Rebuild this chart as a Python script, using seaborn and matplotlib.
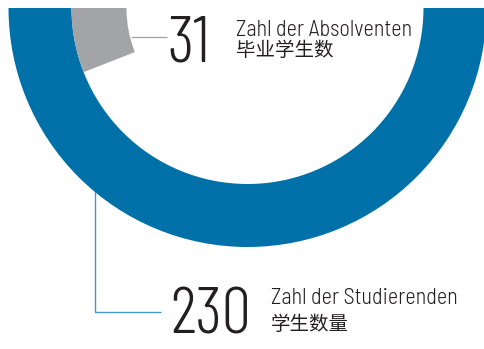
import matplotlib
matplotlib.use("Agg")
import matplotlib.pyplot as plt
from matplotlib.patches import Wedge
import seaborn as sns

# Student figures
categories = ["graduates", "students"]
values = [31, 230]
labels_de = ["Zahl der Absolventen", "Zahl der Studierenden"]
labels_zh = ["毕业学生数", "学生数量"]
colors = ["#a2a4a8", "#0071a8"]

sns.set_theme(style="white")
num_font = ["Barlow Condensed", "Roboto Condensed", "Liberation Sans Narrow", "DejaVu Sans"]
label_font = ["Barlow Semi Condensed", "Roboto Condensed", "Liberation Sans Narrow", "DejaVu Sans"]
cjk = ["Noto Sans CJK SC", "DejaVu Sans"]
plt.rcParams["font.family"] = num_font
text_color = "#231f20"

W, H = 485, 349
fig = plt.figure(figsize=(W / 100, H / 100), dpi=100)
ax = fig.add_axes([0, 0, 1, 1])
ax.set_xlim(0, W)
ax.set_ylim(H, 0)
ax.axis("off")

# Ring geometry (pixel units, y grows downward)
cx, cy = 247.5, 8.0
r_outer, r_mid, r_inner = 239.0, 176.0, 121.0

# Outer half ring: all students
ax.add_patch(Wedge((cx, cy), r_outer, 0, 180, width=r_outer - r_mid,
                   facecolor=colors[1], edgecolor="none", zorder=3))

# Inner segment: graduates as a share of the half circle
total = sum(values)
sweep = 180.0 * values[0] / total
ax.add_patch(Wedge((cx, cy), r_mid, 180 - sweep, 180, width=r_mid - r_inner,
                   facecolor=colors[0], edgecolor="none", zorder=3))

# Leader lines
ax.plot([131, 167], [37.3, 37.3], color="#a0a2a5", lw=0.9, zorder=2,
        solid_capstyle="butt")
ax.plot([95.3, 95.3, 160.7], [180, 311.7, 311.7], color="#4a96c8", lw=1.0,
        zorder=2, solid_capstyle="butt", solid_joinstyle="miter")

# Numbers and captions
num_kw = dict(fontsize=47, fontweight=300, color=text_color, family=num_font,
              ha="left", va="baseline")
de_kw = dict(fontsize=16, fontweight=300, color=text_color, family=label_font,
             ha="left", va="baseline")
zh_kw = dict(fontsize=14, color=text_color, family=cjk, ha="left", va="baseline")

ax.text(167, 61.7, str(values[0]), **num_kw)
ax.text(236, 35.5, labels_de[0], **de_kw)
ax.text(236, 56.5, labels_zh[0], **zh_kw)

ax.text(170, 333.3, str(values[1]), **num_kw)
ax.text(271, 304.3, labels_de[1], **de_kw)
ax.text(271, 330.5, labels_zh[1], **zh_kw)

fig.savefig("out.png", dpi=100, facecolor="white")
